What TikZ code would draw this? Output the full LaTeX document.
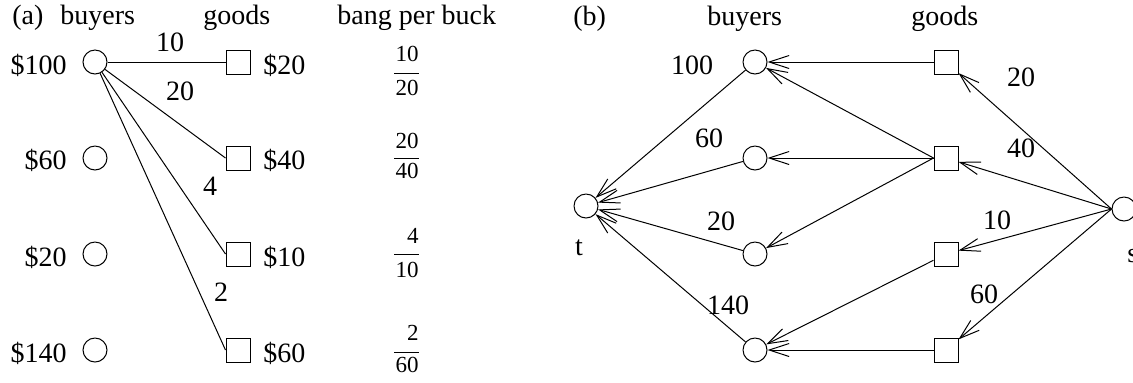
\documentclass[tikz,border=0pt]{standalone}
\usepackage{fontspec}
\setmainfont{Liberation Serif}
\usetikzlibrary{arrows.meta}
\begin{document}
\begin{tikzpicture}[x=0.5pt,y=-0.5pt, font=\fontsize{14}{16}\selectfont,
  buyer/.style={draw, circle, minimum size=12pt, inner sep=0pt, line width=0.5pt},
  good/.style={draw, rectangle, minimum size=12pt, inner sep=0pt, line width=0.5pt},
  edge/.style={line width=0.5pt},
  flow/.style={line width=0.5pt, -{Straight Barb[length=10pt,width=6.5pt]}},
  lbl/.style={inner sep=0pt},
  frac/.style={inner sep=0pt, anchor=east, font=\fontsize{11.5}{13}\selectfont},
]
\useasboundingbox (0,0) rectangle (1133,382);

% ---------- (a) ----------
\node[lbl, anchor=base west] (ta) at (12,24) {(a)};
\node[lbl, anchor=base west] (tab) at (60,24) {buyers};
\node[lbl, anchor=base west] (tag) at (203,24) {goods};
\node[lbl, anchor=base west] (tabpb) at (337,24) {bang per buck};

\node[buyer] (a1) at (95,62) {};
\node[buyer] (a2) at (95,158) {};
\node[buyer] (a3) at (95,254) {};
\node[buyer] (a4) at (95,350) {};
\node[lbl, anchor=base east] (pa1) at (67,74) {\$100};
\node[lbl, anchor=base east] (pa2) at (67,169) {\$60};
\node[lbl, anchor=base east] (pa3) at (67,266) {\$20};
\node[lbl, anchor=base east] (pa4) at (67,362) {\$140};

\node[good] (ag1) at (238,62) {};
\node[good] (ag2) at (238,158) {};
\node[good] (ag3) at (238,254) {};
\node[good] (ag4) at (238,350) {};
\node[lbl, anchor=base west] (pg1) at (263,74) {\$20};
\node[lbl, anchor=base west] (pg2) at (263,169) {\$40};
\node[lbl, anchor=base west] (pg3) at (263,266) {\$10};
\node[lbl, anchor=base west] (pg4) at (263,362) {\$60};

\draw[edge] (a1) -- (ag1.west);
\draw[edge] (a1) -- (ag2.west);
\draw[edge] (a1) -- (ag3.west);
\draw[edge] (a1) -- (ag4.west);
\node[lbl] (e1) at (170,42) {10};
\node[lbl] (e2) at (180,91) {20};
\node[lbl] (e3) at (210,186) {4};
\node[lbl] (e4) at (221,292) {2};

% bang per buck fractions
\node[frac] (f1n) at (419,54) {10};
\node[frac] (f1d) at (419,88) {20};
\draw[edge] (394,73) -- (419,73);
\node[frac] (f2n) at (419,141) {20};
\node[frac] (f2d) at (419,171) {40};
\draw[edge] (394,158) -- (419,158);
\node[frac] (f3n) at (419,236) {4};
\node[frac] (f3d) at (419,270) {10};
\draw[edge] (394,254) -- (419,254);
\node[frac] (f4n) at (419,333) {2};
\node[frac] (f4d) at (419,365) {60};
\draw[edge] (394,352) -- (419,352);

% ---------- (b) ----------
\node[lbl, anchor=base west] (tb) at (573,25) {(b)};
\node[lbl, anchor=base west] (tbb) at (707,25) {buyers};
\node[lbl, anchor=base west] (tbg) at (911,25) {goods};

\node[buyer] (t) at (586,206) {};
\node[lbl, anchor=base] (tl) at (579,255) {t};
\node[buyer] (s) at (1124,209) {};
\node[lbl, anchor=base west] (sl) at (1127,262) {s};

\node[buyer] (b1) at (755,62) {};
\node[buyer] (b2) at (755,158) {};
\node[buyer] (b3) at (755,254) {};
\node[buyer] (b4) at (755,350) {};
\node[good] (g1) at (946,62) {};
\node[good] (g2) at (946,158) {};
\node[good] (g3) at (946,254) {};
\node[good] (g4) at (946,350) {};

\draw[flow] (g1) -- (b1);
\draw[flow] (g2.west) -- (b1);
\draw[flow] (g2) -- (b2);
\draw[flow] (g2.west) -- (b3);
\draw[flow] (g3) -- (b4);
\draw[flow] (g4) -- (b4);

\draw[flow] (b1) -- (t);
\draw[flow] (b2) -- (t);
\draw[flow] (b3) -- (t);
\draw[flow] (b4) -- (t);

\draw[flow] (s.west) -- (g1);
\draw[flow] (s.west) -- (g2);
\draw[flow] (s.west) -- (g3);
\draw[flow] (s.west) -- (g4);

\node[lbl] (l100) at (692,65) {100};
\node[lbl] (l60) at (709,138) {60};
\node[lbl] (l20) at (721,221) {20};
\node[lbl] (l140) at (728,305) {140};
\node[lbl] (r20) at (1021,77) {20};
\node[lbl] (r40) at (1021,148) {40};
\node[lbl] (r10) at (997,220) {10};
\node[lbl] (r60) at (984,294) {60};
\end{tikzpicture}
\end{document}
